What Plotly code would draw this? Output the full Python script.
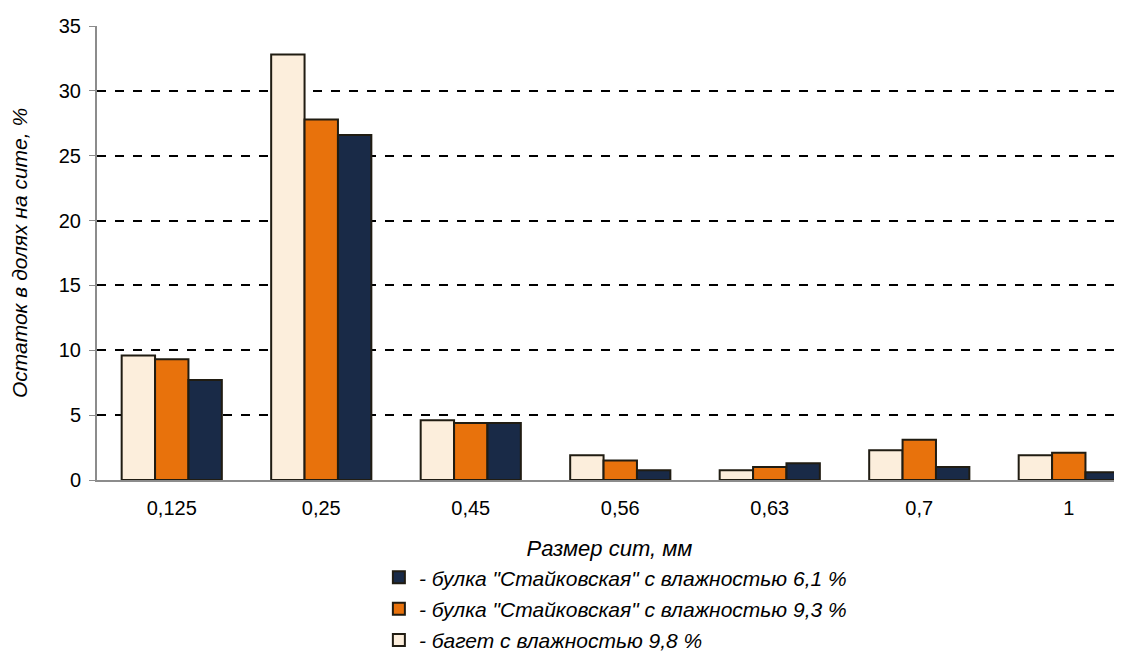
import plotly.graph_objects as go

categories = ["0,125", "0,25", "0,45", "0,56", "0,63", "0,7", "1"]
baget_98 = [9.6, 32.8, 4.6, 1.9, 0.75, 2.3, 1.9]
bulka_93 = [9.3, 27.8, 4.4, 1.5, 1.0, 3.1, 2.1]
bulka_61 = [7.7, 26.6, 4.4, 0.75, 1.3, 1.0, 0.6]

series = [
    ('- багет с влажностью 9,8 %', baget_98, "#FCEEDC"),
    ('- булка "Стайковская" с влажностью 9,3 %', bulka_93, "#E8720C"),
    ('- булка "Стайковская" с влажностью 6,1 %', bulka_61, "#192A47"),
]

fig = go.Figure()
for i, (name, vals, color) in enumerate(series):
    fig.add_trace(go.Bar(
        x=categories, y=vals, name=name,
        legendgroup=f"g{i}", legendrank=10 - i,
        marker=dict(color=color, line=dict(color="#201C12", width=2)),
    ))

fig.update_layout(
    width=1114, height=661,
    paper_bgcolor="white", plot_bgcolor="white",
    margin=dict(l=89, r=0, t=18, b=189),
    barmode="group", bargap=0.33, bargroupgap=0,
    font=dict(family="Liberation Sans, Arial", size=20, color="black"),
    legend=dict(
        orientation="v", x=0.275, xanchor="left", y=-0.170, yanchor="top",
        traceorder="grouped", tracegroupgap=1,
        font=dict(size=21, style="italic"),
        bgcolor="rgba(0,0,0,0)",
    ),
    xaxis=dict(
        range=[-0.5, 6.356],
        showline=True, linecolor="#8C8C8C", linewidth=2,
        ticks="", showgrid=False,
        tickfont=dict(size=20),
        ticklabelstandoff=9,
        title=dict(text="Размер сит, мм", standoff=23,
                   font=dict(size=22, style="italic")),
    ),
    yaxis=dict(
        range=[0, 35], dtick=5,
        showline=True, linecolor="#8C8C8C", linewidth=2,
        ticks="outside", ticklen=6, tickcolor="#8C8C8C",
        ticklabelstandoff=4,
        tickfont=dict(size=20),
        showgrid=True, gridcolor="black", griddash="dash", gridwidth=1.5,
        zeroline=False,
        title=dict(text="Остаток в долях на сите, %", standoff=28,
                   font=dict(size=21, style="italic")),
    ),
)

fig.write_html("out.html")
